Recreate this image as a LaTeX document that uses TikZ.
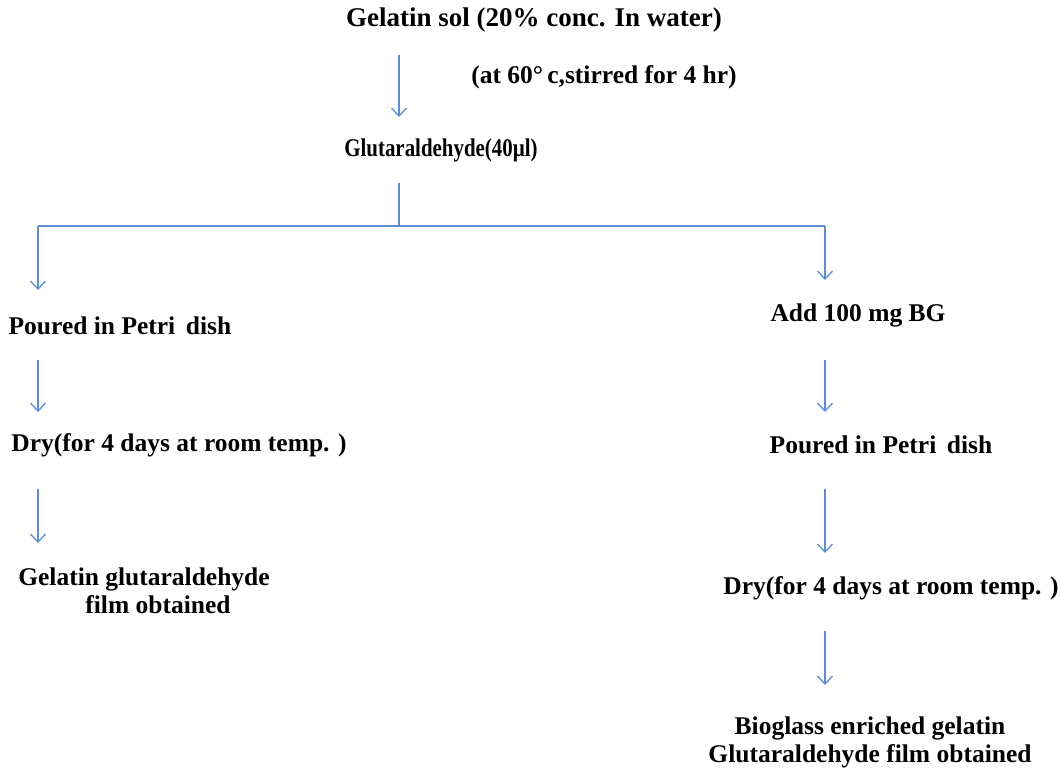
\documentclass[tikz,border=0pt]{standalone}
\usepackage{fontspec}
\setmainfont{Liberation Serif}
\usetikzlibrary{arrows.meta}
\definecolor{arrblue}{HTML}{5F8DCF}
\begin{document}
\begin{tikzpicture}[x=1pt,y=-1pt,
  lbl/.style={font=\fontsize{25.5}{28}\selectfont\bfseries, inner sep=0pt, align=center},
  conn/.style={draw=arrblue, line width=1.3pt},
  arr/.style={conn, -{Straight Barb[length=8pt,width=15pt,line width=1.3pt]}}]
\useasboundingbox[fill=white] (0,0) rectangle (1061,774);
% nodes
\node[lbl, font=\fontsize{27}{30}\selectfont\bfseries] (t1) at (534,20) {Gelatin sol (20\% conc. In water)};
\node[lbl] (cond) at (604,77) {(at 60\textdegree\,c,stirred for 4 hr)};
\node[lbl] (glu) at (441,150) {\scalebox{0.82}[1]{Glutaraldehyde(40µl)}};
\node[lbl] (lp) at (120,326) {Poured in Petri\, dish};
\node[lbl] (ld) at (179,445) {Dry(for 4 days at room temp. )};
\node[lbl] (lf) at (144,591) {Gelatin glutaraldehyde\\ \hspace*{28pt}film obtained};
\node[lbl] (ra) at (858,315) {Add 100 mg BG};
\node[lbl] (rp) at (881,445) {Poured in Petri\, dish};
\node[lbl] (rd) at (891,588) {Dry(for 4 days at room temp. )};
\node[lbl] (rf) at (870,742) {Bioglass enriched gelatin\\ Glutaraldehyde film obtained};
% connector coordinates
\coordinate (a1s) at (399,55);  \coordinate (a1e) at (399,117);
\coordinate (bs) at (399,183);  \coordinate (bj) at (399,226);
\coordinate (bl) at (38,226);   \coordinate (ble) at (38,290);
\coordinate (br) at (825,226);  \coordinate (bre) at (825,280);
\coordinate (l2s) at (38,360);  \coordinate (l2e) at (38,412);
\coordinate (l3s) at (38,489);  \coordinate (l3e) at (38,543);
\coordinate (r2s) at (825,360); \coordinate (r2e) at (825,412);
\coordinate (r3s) at (825,489); \coordinate (r3e) at (825,553);
\coordinate (r4s) at (825,631); \coordinate (r4e) at (825,685);
% connectors
\draw[arr] (a1s) -- (a1e);
\draw[conn] (bs) -- (bj);
\draw[conn] (bl) -- (br);
\draw[arr] (bl) -- (ble);
\draw[arr] (br) -- (bre);
\draw[arr] (l2s) -- (l2e);
\draw[arr] (l3s) -- (l3e);
\draw[arr] (r2s) -- (r2e);
\draw[arr] (r3s) -- (r3e);
\draw[arr] (r4s) -- (r4e);
\end{tikzpicture}
\end{document}
